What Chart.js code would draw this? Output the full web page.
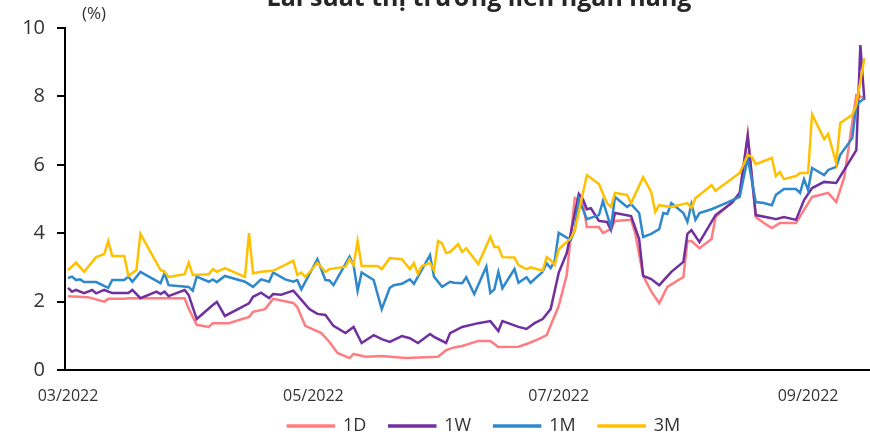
<!DOCTYPE html>
<html>
<head>
<meta charset="utf-8">
<script src="https://cdn.jsdelivr.net/npm/chart.js@4.4.0/dist/chart.umd.min.js"></script>
<style>
  html, body { margin: 0; padding: 0; background: #fff; overflow: hidden; }
  #rateChart { display: block; }
</style>
</head>
<body>
<canvas id="rateChart" width="870" height="437"></canvas>
<script>
// Interbank rates, day offsets counted from 01/03/2022
const titleText = 'Lãi suất thị trường liên ngân hàng';
const unitText = '(%)';
const seriesNames = ['1D', '1W', '1M', '3M'];
const tickDays = [0, 61, 122, 184];
const tickLabels = ['03/2022', '05/2022', '07/2022', '09/2022'];

const days1D = [0,5,9,10,14,15,29,30,32,35,36,40,45,46,49,51,56,57,59,63,65,67,70,71,74,78,84,92,94,96,98,102,105,107,112,114,117,119,122,124,126,128,129,132,133,135,136,140,141,143,145,147,149,153,154,155,157,160,161,167,169,171,173,175,177,181,183,185,189,191,193,196,198];
const rates1D = [2.16,2.13,2.0,2.08,2.08,2.1,2.1,1.8,1.32,1.26,1.37,1.37,1.55,1.7,1.78,2.08,1.96,1.84,1.29,1.08,0.82,0.5,0.35,0.47,0.39,0.41,0.35,0.39,0.58,0.66,0.7,0.85,0.85,0.67,0.68,0.76,0.9,1.02,1.87,2.78,5.03,4.9,4.18,4.18,4.01,4.12,4.36,4.39,4.01,2.75,2.3,1.95,2.43,2.72,3.77,3.77,3.56,3.83,4.47,5.12,6.9,4.47,4.3,4.15,4.3,4.3,4.68,5.06,5.18,4.91,5.64,8.04,7.95];

const days1W = [0,1,2,4,6,7,9,11,15,16,18,22,23,24,25,29,30,32,35,36,37,39,45,46,48,50,51,53,56,57,60,62,64,66,69,71,73,76,78,80,83,85,87,90,91,94,95,96,98,102,105,107,108,112,114,116,118,120,122,124,127,128,129,130,132,134,135,136,140,142,143,145,147,150,153,154,155,157,161,165,167,169,171,175,176,178,181,183,185,188,191,196,197,198];
const rates1W = [2.4,2.29,2.34,2.25,2.34,2.24,2.34,2.25,2.25,2.34,2.1,2.29,2.22,2.29,2.16,2.34,2.19,1.49,1.8,1.9,1.99,1.58,1.95,2.14,2.26,2.1,2.22,2.2,2.32,2.19,1.78,1.64,1.61,1.29,1.08,1.26,0.79,1.02,0.9,0.82,0.99,0.93,0.79,1.05,0.97,0.79,1.08,1.14,1.26,1.37,1.43,1.14,1.43,1.26,1.2,1.37,1.49,1.78,2.84,3.42,5.15,5.0,4.7,4.73,4.36,4.33,4.09,4.59,4.5,3.83,2.75,2.66,2.48,2.87,3.16,3.98,4.09,3.74,4.53,4.88,5.18,6.84,4.53,4.44,4.41,4.47,4.39,4.97,5.32,5.5,5.47,6.43,9.5,7.89];

const days1M = [0,1,2,3,4,7,10,11,14,15,16,18,23,24,25,30,31,32,35,36,37,39,44,46,48,50,51,54,56,57,58,62,64,65,66,70,71,72,73,76,78,80,81,83,85,86,90,91,93,95,96,98,99,101,104,105,106,107,108,111,112,114,115,118,119,120,121,122,125,126,127,129,132,133,135,136,139,140,142,143,145,147,148,149,150,153,154,155,156,157,160,163,167,169,171,173,175,176,178,181,182,183,184,185,188,189,191,192,195,196,198];
const rates1M = [2.69,2.73,2.63,2.65,2.57,2.57,2.4,2.63,2.63,2.73,2.58,2.87,2.54,2.83,2.48,2.43,2.32,2.73,2.58,2.65,2.57,2.75,2.58,2.43,2.65,2.58,2.85,2.65,2.58,2.63,2.36,3.24,2.63,2.62,2.48,3.31,3.07,2.32,2.85,2.63,1.78,2.4,2.48,2.52,2.65,2.52,3.36,2.73,2.43,2.58,2.55,2.54,2.71,2.22,3.02,2.25,2.36,2.87,2.39,2.95,2.55,2.71,2.55,2.87,3.12,2.98,3.19,4.01,3.8,4.09,5.0,4.41,4.53,4.94,4.18,5.06,4.77,4.85,4.59,3.89,3.98,4.12,4.59,4.56,4.88,4.59,4.33,4.85,4.39,4.59,4.7,4.85,5.06,6.2,4.91,4.88,4.82,5.12,5.29,5.29,5.18,5.58,5.26,5.91,5.7,5.85,5.94,6.29,6.78,7.75,7.95];

const days3M = [0,2,4,7,9,10,11,14,15,17,18,23,24,25,29,30,31,35,36,37,39,44,45,46,48,51,56,57,58,59,62,64,65,69,70,71,72,73,77,78,80,83,85,86,87,88,90,91,92,93,94,95,97,98,99,102,105,106,107,108,111,112,114,115,118,119,120,121,122,125,126,127,129,132,134,135,136,139,140,143,145,146,147,150,154,155,156,158,160,161,167,169,170,171,175,176,177,178,181,182,184,185,188,189,191,192,195,196,198];
const rates3M = [2.92,3.14,2.87,3.3,3.39,3.77,3.33,3.33,2.75,2.92,3.98,2.92,2.87,2.72,2.8,3.14,2.78,2.8,2.95,2.87,2.98,2.72,4.0,2.83,2.87,2.9,3.19,2.78,2.85,2.72,3.13,2.87,2.95,3.02,3.24,3.07,3.77,3.04,3.04,2.95,3.27,3.24,2.95,3.13,2.81,3.04,3.13,2.92,3.77,3.7,3.42,3.45,3.68,3.45,3.56,3.1,3.89,3.6,3.6,3.3,3.29,3.07,2.95,3.0,2.9,3.3,3.21,3.07,3.53,3.85,4.09,4.62,5.7,5.44,4.88,4.77,5.18,5.12,4.88,5.64,5.21,4.62,4.82,4.77,4.88,4.74,5.03,5.21,5.41,5.24,5.76,6.29,6.23,6.02,6.2,5.67,5.79,5.58,5.67,5.76,5.76,7.48,6.75,6.9,6.05,7.22,7.46,7.75,9.12];

const colors = ['#FF7C80', '#7030A0', '#2F88CC', '#FFC000'];

function toPoints(days, rates) {
    return days.map((d, i) => ({ x: d, y: rates[i] }));
}

const allDays = [days1D, days1W, days1M, days3M];
const allRates = [rates1D, rates1W, rates1M, rates3M];

Chart.defaults.font.family = '"Open Sans", sans-serif';
Chart.defaults.color = '#333';

// title (cropped at the top) and unit label
const extraText = {
    id: 'extraText',
    afterDraw(chart) {
        const ctx = chart.ctx;
        ctx.save();
        ctx.fillStyle = '#262626';
        ctx.textAlign = 'center';
        ctx.textBaseline = 'alphabetic';
        ctx.font = 'bold 25px "Open Sans"';
        ctx.fillText(titleText, 479, 6);
        ctx.fillStyle = '#333';
        ctx.textAlign = 'left';
        ctx.font = '17px "Open Sans"';
        ctx.fillText(unitText, 82, 19);
        ctx.restore();
    }
};

// move the legend box so its row sits where the reference has it
const legendShift = {
    id: 'legendShift',
    afterLayout(chart) {
        const lg = chart.legend;
        lg.left += 49; lg.right += 49;
        lg.top = 394; lg.bottom = 437; lg.height = 43;
    }
};

const ctx = document.getElementById('rateChart').getContext('2d');
const rateChart = new Chart(ctx, {
    type: 'line',
    data: {
        datasets: seriesNames.map((name, i) => ({
            label: name,
            data: toPoints(allDays[i], allRates[i]),
            borderColor: colors[i],
            backgroundColor: colors[i],
            borderWidth: 2.5,
            pointRadius: 0,
            tension: 0,
            order: 4 - i,
        })),
    },
    options: {
        responsive: false,
        animation: false,
        devicePixelRatio: 1,
        layout: { padding: { top: 28, left: 0, right: 0, bottom: 0 } },
        plugins: {
            legend: {
                position: 'bottom',
                maxHeight: 27,
                labels: {
                    boxWidth: 46,
                    boxHeight: 1,
                    padding: 23,
                    color: '#333',
                    font: { size: 18 },
                    sort: (a, b) => a.datasetIndex - b.datasetIndex,
                },
            },
            tooltip: { enabled: false },
        },
        scales: {
            x: {
                type: 'linear',
                min: -0.75,
                max: 199.4,
                grid: { display: false, drawTicks: false },
                border: { display: true, color: '#000', width: 2 },
                afterBuildTicks: (axis) => { axis.ticks = tickDays.map(v => ({ value: v })); },
                afterFit: (scale) => { scale.height = 40; },
                ticks: {
                    autoSkip: false,
                    maxRotation: 0,
                    padding: 17,
                    color: '#333',
                    font: { size: 16 },
                    callback: (v) => tickLabels[tickDays.indexOf(v)],
                },
            },
            y: {
                min: 0,
                max: 10,
                grid: { display: true, drawOnChartArea: false, drawTicks: true, tickLength: 8, color: '#000', lineWidth: 2 },
                border: { display: true, color: '#000', width: 2 },
                afterFit: (scale) => { scale.width = 65; },
                ticks: {
                    stepSize: 2,
                    padding: 12,
                    color: '#333',
                    font: { size: 20 },
                },
            },
        },
    },
    plugins: [extraText, legendShift],
});
</script>
</body>
</html>
